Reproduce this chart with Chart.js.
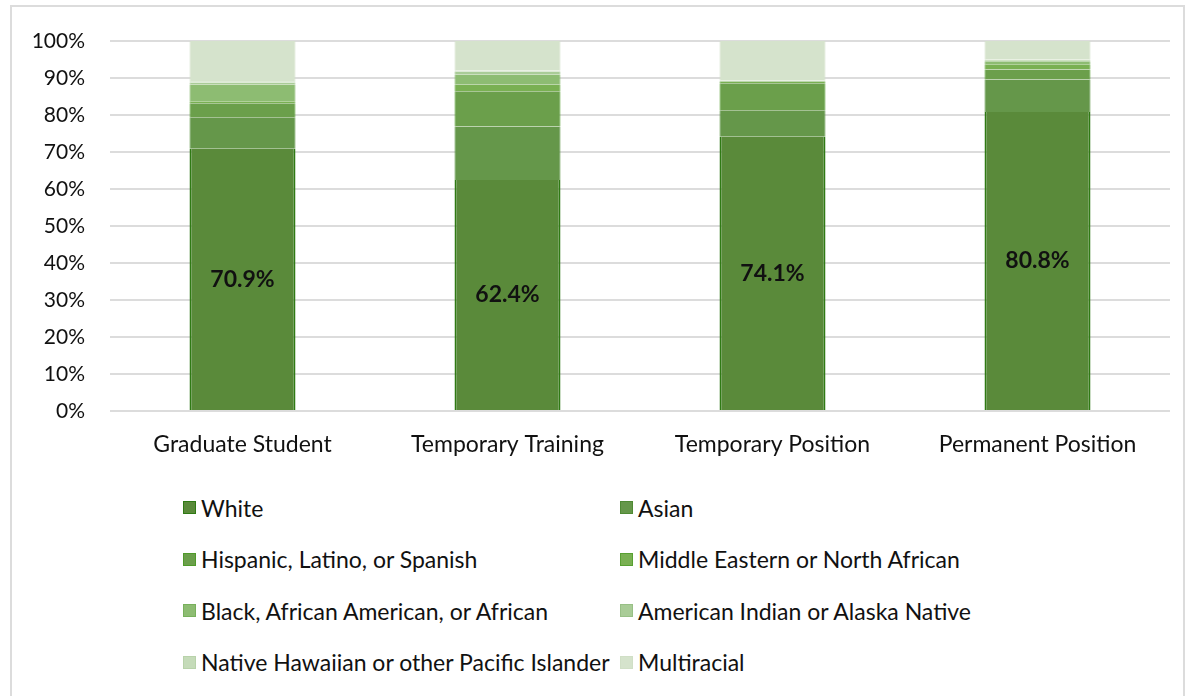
<!DOCTYPE html>
<html lang="en">
<head>
<meta charset="UTF-8" />
<title>Race and ethnicity by career stage</title>
<script src="https://cdn.jsdelivr.net/npm/chart.js"></script>
<style>
  html, body { margin: 0; padding: 0; background: #fff; }
  body { width: 1191px; height: 696px; position: relative; overflow: hidden; font-family: Lato, "Open Sans", sans-serif; }
  #frame { position: absolute; left: 10px; top: 5px; width: 1175px; height: 700px; border: 2px solid #dcdcdc; box-sizing: border-box; }
  #chartBox { position: absolute; left: 0; top: 0; width: 1191px; height: 470px; }
  #legend { position: absolute; left: 183px; top: 482px; display: grid; grid-template-columns: 437px 420px; row-gap: 0; }
  .item { height: 51.5px; display: flex; align-items: center; font-size: 23px; color: #111; white-space: nowrap; }
  .box { width: 13px; height: 13px; margin-right: 5px; box-sizing: border-box; border: 1px solid; }
</style>
</head>
<body>
<div id="frame"></div>
<div id="chartBox"><canvas id="chart" width="1191" height="470"></canvas></div>
<div id="legend"></div>

<script>
  const categories = ['Graduate Student', 'Temporary Training', 'Temporary Position', 'Permanent Position'];
  const groups = [
    'White', 'Asian',
    'Hispanic, Latino, or Spanish', 'Middle Eastern or North African',
    'Black, African American, or African', 'American Indian or Alaska Native',
    'Native Hawaiian or other Pacific Islander', 'Multiracial'
  ];

  // percent of each group, per category (order as categories)
  const white       = [70.9, 62.4, 74.1, 80.8];
  const asian       = [8.5, 14.5, 7.2, 8.8];
  const hispanic    = [3.8, 9.5, 7.3, 2.7];
  const mena        = [0.5, 1.8, 0.3, 1.4];
  const black       = [4.5, 2.7, 0.2, 0.8];
  const amIndian    = [0.6, 0.8, 0.1, 0.3];
  const nhpi        = [0.3, 0.3, 0.1, 0.2];
  const multiracial = [10.9, 8.0, 10.7, 5.0];

  const yTicks = [0, 10, 20, 30, 40, 50, 60, 70, 80, 90, 100];

  const series = [white, asian, hispanic, mena, black, amIndian, nhpi, multiracial];
  const fills = ['#5a8a3a', '#65974a', '#6b9f4b', '#79b052', '#8dbc72', '#a9cc97', '#c5dbb9', '#d5e3cc'];
  const edges = ['#2f7a14', '#4f8a34', '#4f9a2a', '#58a032', '#78b05c', '#98c086', '#b8d2aa', '#d0dfc6'];

  const datasets = series.map((vals, i) => ({
    label: groups[i],
    data: vals,
    backgroundColor: fills[i],
    borderColor: edges[i],
    borderWidth: i === 0 ? { left: 2, right: 2, top: 0, bottom: 0 } : { left: 1, right: 1, top: 0, bottom: 0 },
    borderSkipped: false,
    categoryPercentage: 1,
    barPercentage: 0.4
  }));

  // bold value labels in the White segment
  const whiteLabels = {
    id: 'whiteLabels',
    afterDatasetsDraw(chart) {
      const ctx = chart.ctx;
      const meta = chart.getDatasetMeta(0);
      ctx.save();
      ctx.font = 'bold 23px Lato, "Open Sans", sans-serif';
      ctx.fillStyle = '#111';
      ctx.textAlign = 'center';
      ctx.textBaseline = 'middle';
      meta.data.forEach((bar, i) => {
        const mid = (bar.y + bar.base) / 2;
        ctx.fillText(white[i].toFixed(1) + '%', bar.x, mid);
      });
      ctx.restore();
    }
  };

  const ctx = document.getElementById('chart').getContext('2d');
  new Chart(ctx, {
    type: 'bar',
    data: { labels: categories, datasets },
    options: {
      responsive: false,
      animation: false,
      layout: { padding: { top: 41, right: 21, left: 0, bottom: 0 } },
      plugins: { legend: { display: false }, tooltip: { enabled: false } },
      scales: {
        x: {
          stacked: true,
          grid: { display: false },
          border: { display: false },
          ticks: { color: '#111', font: { size: 23, family: 'Lato, "Open Sans", sans-serif' }, padding: 12 },
          afterFit: s => { s.height = 59; }
        },
        y: {
          stacked: true,
          min: 0,
          max: 100,
          afterBuildTicks: s => { s.ticks = yTicks.map(v => ({ value: v })); },
          grid: { color: '#dcdcdc', lineWidth: 2, drawTicks: false },
          border: { display: false },
          ticks: { color: '#111', font: { size: 21, family: 'Lato, "Open Sans", sans-serif' }, padding: 25, callback: v => v + '%' },
          afterFit: s => { s.width = 110; }
        }
      }
    },
    plugins: [whiteLabels]
  });

  const legend = document.getElementById('legend');
  groups.forEach((g, i) => {
    const item = document.createElement('div');
    item.className = 'item';
    const box = document.createElement('span');
    box.className = 'box';
    box.style.background = fills[i];
    box.style.borderColor = edges[i];
    const txt = document.createElement('span');
    txt.textContent = g;
    item.appendChild(box);
    item.appendChild(txt);
    legend.appendChild(item);
  });
</script>
</body>
</html>
